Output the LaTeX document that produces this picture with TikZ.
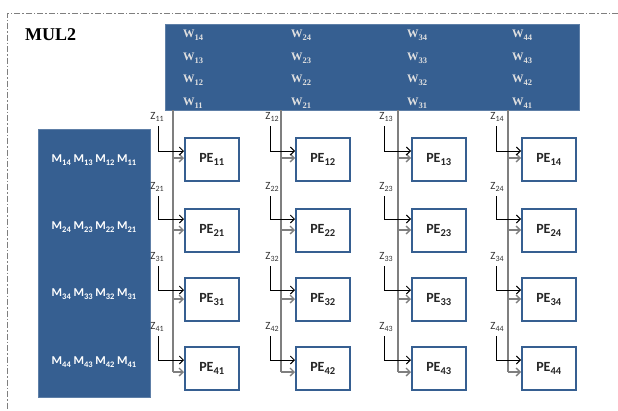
\documentclass[tikz,border=0pt]{standalone}
\usepackage{fontspec}
\setmainfont{Liberation Serif}
\newfontfamily\calib{Carlito}
\usetikzlibrary{arrows.meta}
\definecolor{blk}{HTML}{365F91}
\definecolor{gline}{HTML}{7F7F7F}
\newcommand{\mysub}[2]{{\fontsize{#1}{#1}\selectfont\raisebox{-0.3em}{#2}}}
\begin{document}
\begin{tikzpicture}[x=1pt,y={(0pt,-1pt)},
 blkbox/.style={fill=blk, draw=blk!80!white, inner sep=0, anchor=north west},
 pebox/.style={draw=blk, line width=1.5pt, fill=white, minimum width=54pt, minimum height=43pt, anchor=north west, inner sep=0, font=\calib\bfseries\fontsize{14}{14}\selectfont, text=black!85},
 wlab/.style={anchor=west, text=white!88!black, font=\bfseries\fontsize{11.5}{11.5}\selectfont, inner sep=0},
 mlab/.style={text=white, font=\calib\bfseries\fontsize{12}{12}\selectfont, inner sep=0},
 zlab/.style={font=\calib\fontsize{11}{11}\selectfont, text=black!80, inner sep=0},
 grayln/.style={draw=gline, line width=1.3pt},
 blackln/.style={draw=black, line width=0.9pt},
 tip/.style={-{Straight Barb[length=4pt,width=8pt]}}]
\useasboundingbox (0,0) rectangle (618,410);
% frame
\coordinate (fa) at (618,13);
\coordinate (fb) at (7,13);
\coordinate (fc) at (7,410);
\draw[gline, line width=0.8pt, dash pattern=on 6pt off 2pt on 1.5pt off 2pt] (fa) -- (fb) -- (fc);
\node[anchor=west, font=\bfseries\fontsize{18}{18}\selectfont, inner sep=0] (title) at (25,35) {MUL2};
% blocks
\node[blkbox, minimum width=414pt, minimum height=86pt] (wblk) at (165,24) {};
\node[blkbox, minimum width=112pt, minimum height=268pt] (mblk) at (38,129) {};
\foreach \c/\wx in {1/183,2/291,3/407,4/512}
  \foreach \k/\wy in {4/35,3/58,2/80,1/103}
    \node[wlab] (w\c\k) at (\wx,\wy) {W\mysub{8.5}{\c\k}};
\foreach \r/\my in {1/160,2/227,3/294,4/362}
  \node[mlab] (m\r) at (94,\my) {M\mysub{8.5}{\r4} M\mysub{8.5}{\r3} M\mysub{8.5}{\r2} M\mysub{8.5}{\r1}};
% PE grid
\foreach \c/\bl/\gx/\bx/\zx in {1/184/173/158/157, 2/295/281/270/272, 3/411/398/384/386, 4/521/508/496/497} {
  \coordinate (gt\c) at (\gx,110);
  \coordinate (gend\c) at (\gx,372);
  \draw[grayln] (gt\c) -- (gend\c);
  \foreach \r/\bt/\yb/\yg/\zy in {1/137/151/158/117, 2/208/219/230/187, 3/277/290/299/257, 4/346/360/372/327} {
    \node[pebox] (pe\r\c) at (\bl,\bt) {PE\mysub{10.5}{\r\c}};
    \node[zlab] (z\r\c) at (\zx,\zy) {Z\mysub{8}{\r\c}};
    \coordinate (zt\r\c) at (\bx,\zy+9);
    \coordinate (zb\r\c) at (\bx,\yb);
    \coordinate (gs\r\c) at (\gx,\yg);
    \draw[grayln,tip] (gs\r\c) -- (pe\r\c.west |- gs\r\c);
    \draw[blackln,tip] (zt\r\c) -- (zb\r\c) -- (pe\r\c.west |- zb\r\c);
  }
}
\end{tikzpicture}
\end{document}
